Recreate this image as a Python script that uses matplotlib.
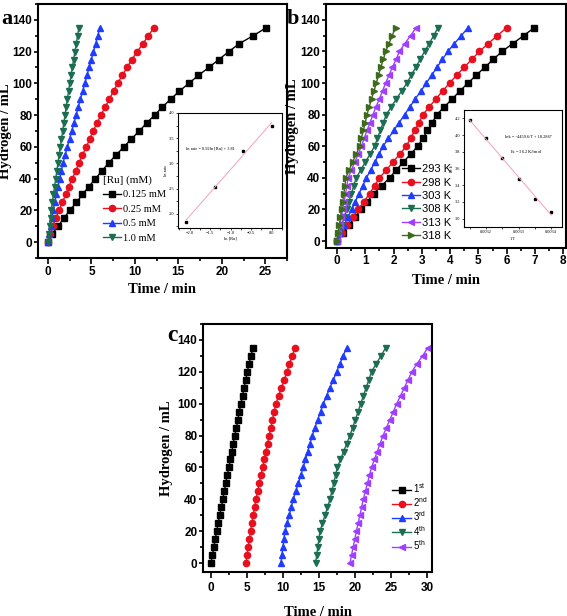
import numpy as np
import matplotlib
matplotlib.use('Agg')
import matplotlib.pyplot as plt
from matplotlib.ticker import MultipleLocator, AutoMinorLocator

plt.rcParams['font.family'] = ['Liberation Sans', 'DejaVu Sans']
plt.rcParams['font.weight'] = 'bold'
plt.rcParams['mathtext.default'] = 'regular'

# hydrogen volume at each marker (mL)
volume = list(range(0, 140, 5))

# --- panel a: time (min) vs [Ru] ---
ru_labels = ['0.125 mM', '0.25 mM', '0.5 mM', '1.0 mM']
t_ru_0125 = [0, 0.46, 1.15, 1.8, 2.5, 3.27, 3.96, 4.7, 5.46, 6.23, 7.0, 7.85, 8.73, 9.6,
             10.5, 11.35, 12.27, 13.15, 14.1, 15.1, 16.2, 17.3, 18.5, 19.65, 20.8, 22.0, 23.6, 25.1]
t_ru_025 = [0, 0.27, 0.58, 0.88, 1.27, 1.65, 2.04, 2.38, 2.81, 3.19, 3.58, 3.96, 4.42, 4.8,
            5.19, 5.65, 6.08, 6.58, 7.04, 7.54, 8.0, 8.55, 9.08, 9.65, 10.27, 10.92, 11.54, 12.19]
t_ru_05 = [0, 0.15, 0.29, 0.44, 0.58, 0.77, 0.96, 1.15, 1.35, 1.54, 1.73, 1.98, 2.23, 2.48,
           2.73, 2.98, 3.23, 3.48, 3.73, 3.98, 4.23, 4.48, 4.73, 4.98, 5.23, 5.48, 5.73, 5.96]
t_ru_10 = [0, 0.1, 0.19, 0.29, 0.38, 0.5, 0.63, 0.76, 0.89, 1.02, 1.15, 1.28, 1.42, 1.55,
           1.69, 1.82, 1.96, 2.09, 2.23, 2.36, 2.5, 2.65, 2.8, 2.95, 3.1, 3.25, 3.4, 3.54]

# inset a
ln_ru = [-2.08, -1.39, -0.69, 0.0]
ln_rate = [1.84, 2.54, 3.25, 3.75]

# --- panel b: time (min) vs temperature ---
temp_labels = ['293 K', '298 K', '303 K', '308 K', '313 K', '318 K']
t_293 = [0, 0.2, 0.42, 0.63, 0.84, 1.07, 1.3, 1.58, 1.86, 2.1, 2.35, 2.6, 2.86, 3.03,
         3.2, 3.37, 3.53, 3.8, 4.08, 4.35, 4.63, 4.93, 5.23, 5.53, 5.84, 6.22, 6.6, 6.98]
t_298 = [0, 0.17, 0.35, 0.55, 0.75, 0.95, 1.15, 1.33, 1.5, 1.75, 1.98, 2.22, 2.45, 2.6,
         2.75, 2.9, 3.04, 3.27, 3.5, 3.74, 3.98, 4.24, 4.5, 4.77, 5.04, 5.35, 5.67, 6.0]
t_303 = [0, 0.12, 0.25, 0.38, 0.52, 0.65, 0.78, 0.91, 1.04, 1.19, 1.34, 1.48, 1.63, 1.82,
         2.0, 2.2, 2.39, 2.58, 2.77, 2.97, 3.16, 3.35, 3.54, 3.73, 3.92, 4.15, 4.4, 4.63]
t_308 = [0, 0.08, 0.17, 0.25, 0.34, 0.42, 0.51, 0.59, 0.68, 0.84, 1.0, 1.17, 1.33, 1.43,
         1.53, 1.64, 1.74, 1.92, 2.1, 2.29, 2.47, 2.63, 2.79, 2.94, 3.1, 3.26, 3.42, 3.57]
t_313 = [0, 0.05, 0.1, 0.15, 0.2, 0.25, 0.3, 0.35, 0.39, 0.51, 0.63, 0.75, 0.86, 0.96,
         1.06, 1.17, 1.27, 1.38, 1.5, 1.61, 1.72, 1.84, 1.96, 2.09, 2.21, 2.4, 2.6, 2.8]
t_318 = [0, 0.04, 0.08, 0.12, 0.16, 0.2, 0.24, 0.28, 0.31, 0.43, 0.55, 0.68, 0.8, 0.86,
         0.93, 1.0, 1.06, 1.14, 1.22, 1.31, 1.39, 1.47, 1.55, 1.64, 1.72, 1.84, 1.95, 2.07]

# inset b
inv_T = [0.00315, 0.0032, 0.00325, 0.0033, 0.00335, 0.0034]
ln_k = [4.18, 3.97, 3.73, 3.48, 3.23, 3.08]

# --- panel c: reusability runs ---
run_labels = ['1$^{st}$', '2$^{nd}$', '3$^{rd}$', '4$^{th}$', '5$^{th}$']
t_run1 = [0, 0.2, 0.4, 0.6, 0.8, 1.0, 1.2, 1.45, 1.65, 1.85, 2.05, 2.25, 2.5, 2.7,
          2.9, 3.1, 3.3, 3.55, 3.75, 3.95, 4.15, 4.4, 4.6, 4.85, 5.05, 5.3, 5.55, 5.85]
t_run2 = [4.86, 5.0, 5.16, 5.33, 5.5, 5.68, 5.87, 6.06, 6.25, 6.48, 6.71, 6.94, 7.17, 7.4,
          7.63, 7.86, 8.09, 8.32, 8.55, 8.78, 9.03, 9.4, 9.8, 10.2, 10.56, 10.9, 11.3, 11.67]
t_run3 = [9.72, 9.85, 10.0, 10.14, 10.28, 10.57, 10.86, 11.15, 11.44, 11.78, 12.12, 12.47, 12.82, 13.13,
          13.44, 13.76, 14.07, 14.45, 14.83, 15.22, 15.6, 16.06, 16.52, 16.99, 17.45, 17.9, 18.35, 18.84]
t_run4 = [14.54, 14.69, 14.84, 14.99, 15.14, 15.49, 15.84, 16.18, 16.53, 16.79, 17.04, 17.3, 17.55, 17.99,
          18.43, 18.86, 19.3, 19.68, 20.05, 20.43, 20.8, 21.18, 21.55, 21.93, 22.3, 22.95, 23.6, 24.26]
t_run5 = [19.3, 19.53, 19.75, 19.98, 20.2, 20.44, 20.68, 20.92, 21.16, 21.45, 21.73, 22.02, 22.3, 22.7,
          23.1, 23.5, 23.9, 24.38, 24.85, 25.33, 25.8, 26.33, 26.85, 27.38, 27.9, 28.6, 29.4, 30.1]

colors = ['#000000', '#e8101e', '#1f3cff', '#1d6e50', '#a040ff', '#3d6a1c']
markers = ['s', 'o', '^', 'v', '<', '>']
SERIF = 'Liberation Serif'

W, H = 567, 616
fig = plt.figure(figsize=(W / 100, H / 100), dpi=100)


def px_axes(left, top, right, bottom):
    return fig.add_axes([left / W, (H - bottom) / H, (right - left) / W, (bottom - top) / H])


def style_main(ax, xlim, ylim, xstep, xpad, ypad, xtickpad=1.5):
    ax.set_xlim(*xlim)
    ax.set_ylim(*ylim)
    ax.xaxis.set_major_locator(MultipleLocator(xstep))
    ax.xaxis.set_minor_locator(AutoMinorLocator(2))
    ax.yaxis.set_major_locator(MultipleLocator(20))
    ax.yaxis.set_minor_locator(AutoMinorLocator(2))
    ax.tick_params(which='both', direction='out', top=False, right=False, width=1.2)
    ax.tick_params(axis='x', which='major', length=4, labelsize=8.5, pad=xtickpad)
    ax.tick_params(axis='x', which='minor', length=2.5)
    ax.tick_params(axis='y', which='major', length=3, labelsize=8.5, pad=1)
    ax.tick_params(axis='y', which='minor', length=2)
    for s in ax.spines.values():
        s.set_linewidth(1.5)
    ax.set_xlabel('Time / min', family=SERIF, fontweight='bold', fontsize=10.5, labelpad=xpad)
    ax.set_ylabel('Hydrogen / mL', family=SERIF, fontweight='bold', fontsize=10.5, labelpad=ypad)


def style_inset(ax):
    ax.tick_params(which='both', direction='out', top=False, right=False, width=0.5,
                   labelsize=3.2, length=1.5, pad=1)
    for s in ax.spines.values():
        s.set_linewidth(0.8)
    for lbl in ax.get_xticklabels() + ax.get_yticklabels():
        lbl.set_fontweight('normal')
        lbl.set_family(SERIF)


# ---------- panel a ----------
ax_a = px_axes(38, 4, 287, 258)
for t, lab, c, m in zip([t_ru_0125, t_ru_025, t_ru_05, t_ru_10], ru_labels, colors, markers):
    ax_a.plot(t, volume, color=c, marker=m, ms=4.5, lw=1, label=lab)
style_main(ax_a, (-1.15, 27.5), (-10, 150), 5, 4, 0.5)
leg = ax_a.legend(loc='upper left', bbox_to_anchor=(0.23, 0.355), frameon=False, title='[Ru] (mM)',
                  prop={'family': SERIF, 'weight': 'normal', 'size': 7.5},
                  handlelength=1.8, handletextpad=0.2, labelspacing=0.5, borderpad=0.2)
leg.get_title().set_fontfamily(SERIF)
leg.get_title().set_fontweight('normal')
leg.get_title().set_fontsize(8)
leg._legend_box.align = 'left'
fig.text(1 / W, 1 - 24 / H, 'a', family=SERIF, fontweight='bold', fontsize=16)

ins_a = px_axes(178, 113, 282, 228)
ins_a.plot(ln_ru, ln_rate, 's', color='k', ms=1.5)
coef_a = np.polyfit(ln_ru, ln_rate, 1)
ins_a.plot(ln_ru, np.polyval(coef_a, ln_ru), color='#f4a0b8', lw=0.7)
ins_a.set_xlim(-2.28, 0.25)
ins_a.set_ylim(1.72, 4.0)
ins_a.set_xticks([-2.0, -1.5, -1.0, -0.5, 0.0])
ins_a.set_yticks([2.0, 2.5, 3.0, 3.5, 4.0])
ins_a.xaxis.set_minor_locator(AutoMinorLocator(2))
ins_a.yaxis.set_minor_locator(AutoMinorLocator(2))
ins_a.set_xlabel('ln [Ru]', fontsize=3.2, fontweight='normal', family=SERIF, labelpad=1)
ins_a.set_ylabel('ln rate', fontsize=3.2, fontweight='normal', family=SERIF, labelpad=1)
ins_a.text(0.08, 0.68, 'ln rate = 0.92ln [Ru] + 3.81', transform=ins_a.transAxes, fontsize=3.2,
           fontweight='normal', family=SERIF)
style_inset(ins_a)

# ---------- panel b ----------
ax_b = px_axes(326, 4, 566, 248)
for t, lab, c, m in zip([t_293, t_298, t_303, t_308, t_313, t_318], temp_labels, colors, markers):
    ax_b.plot(t, volume, color=c, marker=m, ms=4.5, lw=1, label=lab)
style_main(ax_b, (-0.39, 8.1), (-4.4, 150), 1, 5, 1, xtickpad=1)
ax_b.legend(loc='upper left', bbox_to_anchor=(0.29, 0.37), frameon=False,
            prop={'weight': 'normal', 'size': 8},
            handlelength=1.6, handletextpad=0.2, labelspacing=0.3, borderpad=0.1)
fig.text(287 / W, 1 - 24 / H, 'b', family=SERIF, fontweight='bold', fontsize=16)

ins_b = px_axes(464, 110, 562, 227)
ins_b.plot(inv_T, ln_k, 's', color='k', ms=1.5)
coef_b = np.polyfit(inv_T, ln_k, 1)
ins_b.plot(inv_T, np.polyval(coef_b, inv_T), color='#f4a0b8', lw=0.7)
ins_b.set_xlim(0.003133, 0.003433)
ins_b.set_ylim(2.9, 4.3)
ins_b.set_xticks([0.0032, 0.0033, 0.0034])
ins_b.set_xticklabels(['0.0032', '0.0033', '0.0034'])
ins_b.set_yticks([3.0, 3.2, 3.4, 3.6, 3.8, 4.0, 4.2])
ins_b.xaxis.set_minor_locator(AutoMinorLocator(2))
ins_b.set_xlabel('1/T', fontsize=3.2, fontweight='normal', family=SERIF, labelpad=2)
ins_b.set_ylabel('ln k', fontsize=3.2, fontweight='normal', family=SERIF, labelpad=1)
ins_b.text(0.42, 0.76, 'lnk = -4459.6/T + 18.2887', transform=ins_b.transAxes, fontsize=3.2,
           fontweight='normal', family=SERIF)
ins_b.text(0.47, 0.63, 'E$_a$ = 36.2 KJ/mol', transform=ins_b.transAxes, fontsize=3.2,
           fontweight='normal', family=SERIF)
style_inset(ins_b)

# ---------- panel c ----------
ax_c = px_axes(203, 324, 432, 572)
for t, lab, c, m in zip([t_run1, t_run2, t_run3, t_run4, t_run5], run_labels, colors, markers):
    ax_c.plot(t, volume, color=c, marker=m, ms=4.5, lw=1, label=lab)
style_main(ax_c, (-1.1, 30.7), (-5.6, 150), 5, 9, 3.5, xtickpad=3)
ax_c.legend(loc='upper left', bbox_to_anchor=(0.8, 0.39), frameon=False,
            prop={'weight': 'normal', 'size': 7},
            handlelength=2.0, handletextpad=0.2, labelspacing=0.05, borderpad=0.1)
fig.text(167 / W, 1 - 341 / H, 'c', family=SERIF, fontweight='bold', fontsize=17)

fig.savefig('out.png', dpi=100)
